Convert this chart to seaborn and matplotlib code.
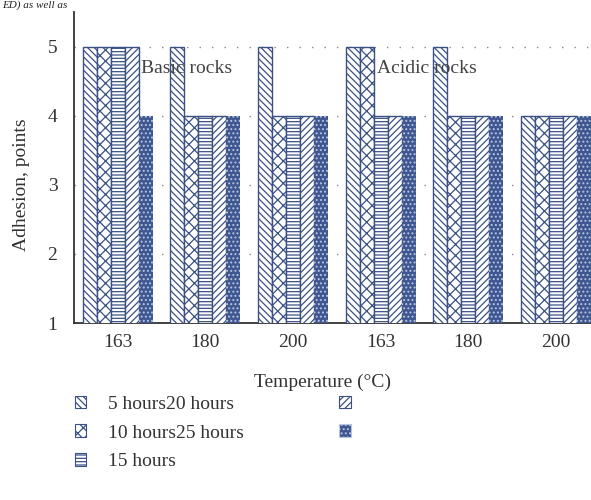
import matplotlib
matplotlib.use("Agg")
import matplotlib.pyplot as plt
from matplotlib.patches import Patch
import seaborn as sns
import pandas as pd

# ---- data ----
groups = ["b163", "b180", "b200", "a163", "a180", "a200"]
group_labels = ["163", "180", "200", "163", "180", "200"]
series = ["5 hours", "10 hours", "15 hours", "20 hours", "25 hours"]
values_5h = [5, 5, 5, 5, 5, 4]
values_10h = [5, 4, 4, 5, 4, 4]
values_15h = [5, 4, 4, 4, 4, 4]
values_20h = [5, 4, 4, 4, 4, 4]
values_25h = [4, 4, 4, 4, 4, 4]
legend_labels = ["5 hours20 hours", "10 hours25 hours", "15 hours", "", ""]

all_values = [values_5h, values_10h, values_15h, values_20h, values_25h]
rows = []
for s, vals in zip(series, all_values):
    for g, v in zip(groups, vals):
        rows.append({"group": g, "series": s, "value": v})
df = pd.DataFrame(rows)

# ---- style ----
sns.set_style("white")
plt.rcParams["font.family"] = ["Liberation Serif", "DejaVu Serif"]
plt.rcParams["hatch.linewidth"] = 0.9

EDGE = "#3b5186"
DARK = "#3f5790"
LIGHTDOT = "#b8c4e0"

styles = [
    dict(face="white", edge=EDGE, hatch="\\\\\\\\\\"),
    dict(face="white", edge=EDGE, hatch="xxx"),
    dict(face="white", edge=EDGE, hatch="-----"),
    dict(face="white", edge=EDGE, hatch="/////"),
    dict(face=DARK, edge=LIGHTDOT, hatch="...."),
]

fig = plt.figure(figsize=(5.91, 5.0), dpi=100)
ax = fig.add_axes([74 / 591, 1 - 323 / 500, 525.6 / 591, 311 / 500])

sns.barplot(data=df, x="group", y="value", hue="series", order=groups,
            hue_order=series, width=0.8, ax=ax, legend=False, zorder=3)

for cont, st in zip(ax.containers, styles):
    for bar in cont:
        bar.set_facecolor(st["face"])
        bar.set_edgecolor(st["edge"])
        bar.set_hatch(st["hatch"])
        bar.set_linewidth(1.0 if st["face"] == "white" else 0.0)

ax.set_ylim(1, 5.5)
ax.set_xlim(-0.5, 5.5)
ax.set_yticks([1, 2, 3, 4, 5])
ax.set_yticklabels(["1", "2", "3", "4", "5"], fontsize=14, color="#333333")

# boundaries as major ticks, labels on minor
ax.set_xticks([i - 0.5 for i in range(len(groups) + 1)])
ax.set_xticklabels([""] * (len(groups) + 1))
ax.set_xticks(list(range(len(groups))), minor=True)
ax.set_xticklabels(group_labels, minor=True, fontsize=14, color="#333333")
ax.tick_params(axis="x", which="minor", length=0, pad=8)
ax.tick_params(axis="x", which="major", length=5, width=1.2, direction="out", color="#333333")
ax.tick_params(axis="y", length=6, width=1.2, direction="out", color="#333333", pad=6)

for sp in ["top", "right"]:
    ax.spines[sp].set_visible(False)
for sp in ["left", "bottom"]:
    ax.spines[sp].set_color("#333333")
    ax.spines[sp].set_linewidth(1.3)

ax.yaxis.grid(True, linestyle=(0, (1, 8)), color="#888888", linewidth=1.0, zorder=0)
ax.set_axisbelow(True)
ax.set_xlabel("")
ax.set_ylabel("")

ax.text(0.27, 4.68, "Basic rocks", fontsize=14, color="#444444", va="center", ha="left", zorder=5)
ax.text(2.96, 4.68, "Acidic rocks", fontsize=14, color="#444444", va="center", ha="left", zorder=5)

fig.text(322 / 591, 1 - 382 / 500, "Temperature (°C)", fontsize=14, color="#333333",
         ha="center", va="center")
fig.text(22 / 591, 1 - 185 / 500, "Adhesion, points", fontsize=14, color="#333333",
         ha="center", va="center", rotation=90)

# stray text at the top of the page
fig.text(0.003, 0.999, "ED) as well as", fontsize=8, color="#222222",
         ha="left", va="top", style="italic")

handles = [Patch(facecolor=st["face"], edgecolor=st["edge"], hatch=st["hatch"],
                 linewidth=0.8) for st in styles]
leg = fig.legend(handles, legend_labels, loc="upper left",
                 bbox_to_anchor=(67 / 591, 1 - 388 / 500), ncol=2, frameon=False,
                 fontsize=14, handlelength=0.6, handleheight=0.6, handletextpad=1.1,
                 labelspacing=0.6, columnspacing=4.9, borderaxespad=0)
for t in leg.get_texts():
    t.set_color("#333333")

fig.savefig("out.png", dpi=100)
